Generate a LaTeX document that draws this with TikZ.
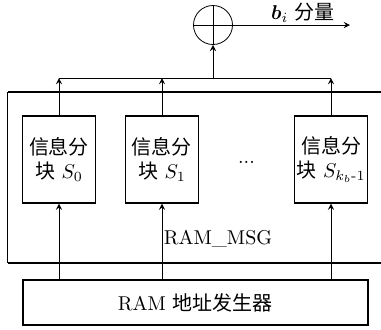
\documentclass[tikz,border=0pt]{standalone}
\usepackage{amsmath}
\usepackage{bm}
\usepackage{fontspec}
\newfontfamily\cjk{Noto Sans CJK SC}
\usetikzlibrary{arrows}

\begin{document}
\begin{tikzpicture}[>=stealth, x=0.5pt, y=-0.5pt]
    \tikzstyle{block} = [draw, semithick, minimum width=36.5pt,
	minimum height=43.5pt, inner sep=1pt, align=center]
    \tikzstyle{wall} = [line width=0.9pt]
    \useasboundingbox (0,0) rectangle (381,329);
	% RAM_MSG, open on the right
	\draw[wall] (381,92) -- (7.5,92);
	\draw[wall] (381,263) -- (7.5,263);
	\draw (7.5,92) -- (7.5,263);
	\begin{scope}
		\path[->]
			node[draw, circle, minimum size=19.5pt, inner sep=0pt] (X) at (213,25) {}
			node (bi) at (303,13) {$\bm{b}_i$ {\cjk 分量}}
			coordinate (out) at (350,25)
			node[block] (S0) at (59,159.5) {{\cjk 信息分}\\{\cjk 块} $S_0$}
			node[block] (S1) at (162,159.5) {{\cjk 信息分}\\{\cjk 块} $S_1$}
			node[block] (Sk) at (331,159.5) {{\cjk 信息分}\\{\cjk 块} $S_{k_b\text{-}1}$}
			node (dots) at (246.5,162.5) {...}
			node (msg) at (218,239) {RAM\_MSG}
			node[draw, thick, minimum width=172.5pt, minimum height=22.5pt] (G)
				at (195.3,302.5) {RAM {\cjk 地址发生器}}
			coordinate (b0) at (59,78)
			coordinate (bm) at (213,78)
			coordinate (bk) at (331,78)
			(X) edge (out)
			(bm) edge (X)
			(S0) edge (b0)
			(S1) edge (S1 |- b0)
			(Sk) edge (bk)
			(S0 |- G.north) edge (S0)
			(S1 |- G.north) edge (S1)
			(Sk |- G.north) edge (Sk) ;
		\draw (X.north) -- (X.south) (X.west) -- (X.east);
		\draw (b0) -- (bk);
	\end{scope}
\end{tikzpicture}
\end{document}
